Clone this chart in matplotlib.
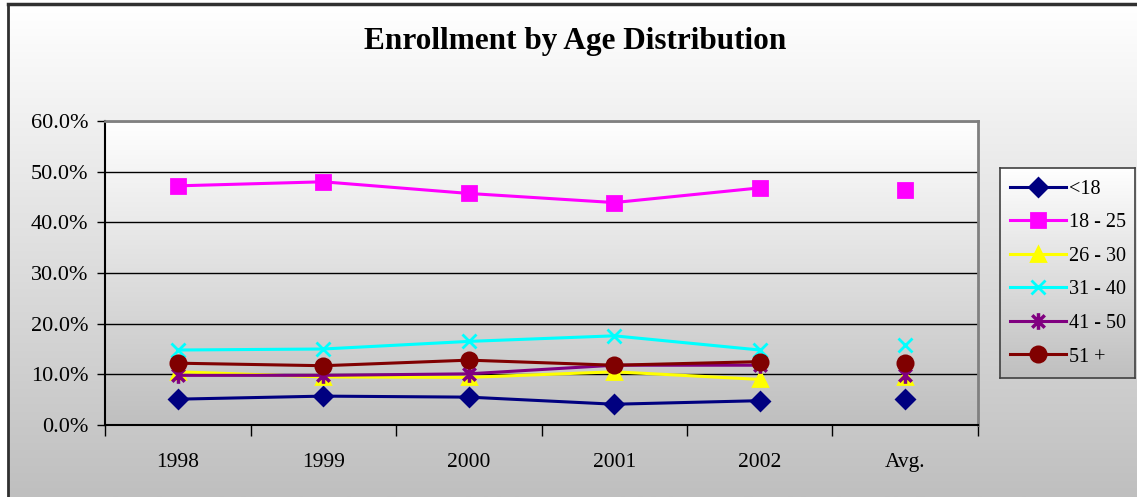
import numpy as np
import matplotlib
matplotlib.use("Agg")
import matplotlib.pyplot as plt
from matplotlib.path import Path
from matplotlib.lines import Line2D

categories = ["1998", "1999", "2000", "2001", "2002", "Avg."]
under18 = [5.1, 5.7, 5.5, 4.1, 4.8, 5.1]
age18_25 = [47.2, 48.0, 45.7, 43.9, 46.8, 46.3]
age26_30 = [10.5, 9.5, 9.4, 10.5, 9.0, 9.5]
age31_40 = [14.8, 15.0, 16.5, 17.6, 14.8, 15.8]
age41_50 = [9.8, 9.8, 10.1, 11.8, 11.8, 9.9]
age51_plus = [12.2, 11.7, 12.8, 11.8, 12.5, 12.2]
series_labels = ["<18", "18 - 25", "26 - 30", "31 - 40", "41 - 50", "51 +"]
yticks = [0, 10, 20, 30, 40, 50, 60]

plt.rcParams['font.family'] = ['Liberation Serif', 'DejaVu Serif']

W, H = 1137, 497
fig = plt.figure(figsize=(W / 100, H / 100), dpi=100)
fig.patch.set_facecolor('white')

# figure background gradient
bg = fig.add_axes([8 / W, 0, 1 - 8 / W, 1 - 5 / H], zorder=-10)
grad = np.linspace(0, 1, 256).reshape(-1, 1)
cmap_bg = matplotlib.colors.LinearSegmentedColormap.from_list('g', ['#ffffff', '#bfbfbf'])
bg.imshow(grad, aspect='auto', cmap=cmap_bg, extent=[0, 1, 0, 1], origin='upper')
bg.set_axis_off()
fig.add_artist(Line2D([8 / W, 8 / W], [0, 1 - 4 / H], color='#303030', lw=2, transform=fig.transFigure))
fig.add_artist(Line2D([8 / W, 1], [1 - 4 / H, 1 - 4 / H], color='#303030', lw=2.5, transform=fig.transFigure))

ax = fig.add_axes([105 / W, 1 - 425 / H, (978 - 105) / W, (425 - 121) / H])
ax.set_facecolor('none')
x = np.arange(len(categories))
ax.set_xlim(-0.5, len(categories) - 0.5)
ax.set_ylim(0, 60)
ax.imshow(grad, aspect='auto', cmap=cmap_bg, extent=[-0.5, len(categories) - 0.5, 0, 60],
          origin='upper', zorder=0)

for yv in yticks[1:]:
    ax.axhline(yv, color='black', lw=1, zorder=1)

star = Path([(0, -1), (0, 1), (-0.75, -0.75), (0.75, 0.75), (-0.75, 0.75), (0.75, -0.75)],
            [Path.MOVETO, Path.LINETO, Path.MOVETO, Path.LINETO, Path.MOVETO, Path.LINETO])

series = [
    (under18, '#000080', 'D', 9, 2.0),
    (age18_25, '#ff00ff', 's', 10, 2.0),
    (age26_30, '#ffff00', '^', 10, 2.0),
    (age31_40, '#00ffff', 'x', 10, 2.0),
    (age41_50, '#800080', star, 12, 2.5),
    (age51_plus, '#800000', 'o', 11, 2.0),
]

handles = []
for (vals, col, mk, ms, mew), lab in zip(series, series_labels):
    ax.plot(x[:5], vals[:5], color=col, lw=2.2, marker=mk, markersize=ms,
            markerfacecolor=col, markeredgecolor=col, markeredgewidth=mew, zorder=3)
    ax.plot(x[5:], vals[5:], linestyle='none', marker=mk, markersize=ms,
            markerfacecolor=col, markeredgecolor=col, markeredgewidth=mew, zorder=3)
    handles.append(Line2D([], [], color=col, lw=2.2, marker=mk, markersize=ms,
                          markerfacecolor=col, markeredgecolor=col, markeredgewidth=mew, label=lab))

ax.set_yticks(yticks)
ax.set_yticklabels([f"{v:.1f}%" for v in yticks], fontsize=16)
ax.set_xticks(np.arange(-0.5, len(categories), 1.0))
ax.set_xticklabels([])
ax.set_xticks(x, minor=True)
ax.set_xticklabels(categories, minor=True, fontsize=15.5)
ax.tick_params(axis='x', which='major', direction='out', length=8, width=1, color='black')
ax.tick_params(axis='x', which='minor', length=0, pad=20)
ax.tick_params(axis='y', direction='out', length=6, width=1, color='black', pad=6)
for s in ['left', 'bottom']:
    ax.spines[s].set_color('black')
    ax.spines[s].set_linewidth(1.5)
for s in ['top', 'right']:
    ax.spines[s].set_color('#808080')
    ax.spines[s].set_linewidth(2)

fig.text(575 / W, 1 - 42 / H, "Enrollment by Age Distribution", ha='center', va='center',
         fontsize=22.5, fontweight='bold')

# legend box with gradient
lax = fig.add_axes([1000 / W, 1 - 378 / H, (1135 - 1000) / W, (378 - 168) / H])
lax.imshow(grad, aspect='auto', cmap=cmap_bg, extent=[0, 1, 0, 1], origin='upper')
lax.set_xticks([]); lax.set_yticks([])
for s in lax.spines.values():
    s.set_color('#404040'); s.set_linewidth(1.2)
lax.legend(handles=handles, loc='center left', bbox_to_anchor=(0.0, 0.5), frameon=False,
           fontsize=14.5, handlelength=2.8, handletextpad=0.15, labelspacing=0.72,
           borderaxespad=0.1)

fig.savefig("out.png", dpi=100)
